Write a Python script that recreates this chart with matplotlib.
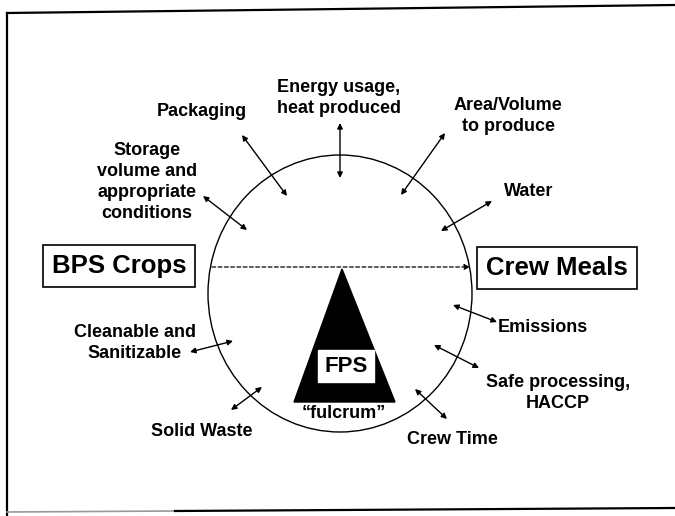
import matplotlib
matplotlib.use("Agg")
import matplotlib.pyplot as plt
from matplotlib.patches import Ellipse, Polygon, Rectangle

# ---- data (pixel coordinates of the diagram) ----
labels = ["Energy usage,\nheat produced", "Packaging", "Area/Volume\nto produce",
          "Storage\nvolume and\nappropriate\nconditions", "Water", "Emissions",
          "Cleanable and\nSanitizable", "Safe processing,\nHACCP", "Solid Waste", "Crew Time"]
label_x = [339, 202, 508, 147, 529, 543, 135, 558, 202, 452]
label_y = [98, 111, 116, 182, 192, 327, 343, 393, 431, 439]

arrow_start_x = [340, 242, 445, 203, 492, 497, 190, 479, 231, 447]
arrow_start_y = [123, 135, 133, 196, 201, 322, 352, 368, 410, 419]
arrow_end_x = [340, 287, 401, 247, 441, 453, 233, 434, 262, 415]
arrow_end_y = [178, 196, 195, 230, 231, 305, 341, 345, 387, 389]

side_labels = ["BPS Crops", "Crew Meals"]
side_x = [119, 557]
side_y = [266, 268]

center_label = "FPS"
fulcrum_label = "\u201cfulcrum\u201d"

W, H = 675, 516
fig = plt.figure(figsize=(W / 100, H / 100), dpi=100)
ax = fig.add_axes([0, 0, 1, 1])
ax.set_xlim(0, W)
ax.set_ylim(H, 0)
ax.axis("off")

font = ["Liberation Sans", "DejaVu Sans"]

# outer frame (slightly skewed scan)
ax.plot([7, 7], [13, 516], color="black", lw=1.6)
ax.plot([7, 675], [13, 5], color="black", lw=1.6)
ax.plot([7, 175], [512, 511], color="#999999", lw=1.2)
ax.plot([175, 675], [511, 508], color="black", lw=1.6)

# circle
ax.add_patch(Ellipse((340, 293.5), 264, 277, fill=False, ec="black", lw=1.0))

# dashed balance line with arrowhead
ax.annotate("", xy=(470, 267), xytext=(212, 267),
            arrowprops=dict(arrowstyle="-|>", linestyle=(0, (3, 2)), lw=0.9,
                            color="black", mutation_scale=8, shrinkA=0, shrinkB=0))

# fulcrum triangle
ax.add_patch(Polygon([(342, 269), (294, 402), (395, 402)], closed=True, fc="black", ec="black"))
ax.add_patch(Rectangle((318, 350), 56, 32, fc="white", ec="white"))
ax.text(346, 366, center_label, ha="center", va="center", fontsize=16,
        fontweight="bold", family=font)
ax.text(344, 413, fulcrum_label, ha="center", va="center", fontsize=13,
        fontweight="bold", family=font)

# side boxes
for t, x, y in zip(side_labels, side_x, side_y):
    ax.text(x, y, t, ha="center", va="center", fontsize=18.5, fontweight="bold",
            family=font,
            bbox=dict(boxstyle="square,pad=0.35", fc="white", ec="black", lw=1.2))

# double-headed arrows
for x0, y0, x1, y1 in zip(arrow_start_x, arrow_start_y, arrow_end_x, arrow_end_y):
    ax.annotate("", xy=(x1, y1), xytext=(x0, y0),
                arrowprops=dict(arrowstyle="<|-|>", lw=1.0, color="black",
                                mutation_scale=8, shrinkA=0, shrinkB=0))

# labels
for t, x, y in zip(labels, label_x, label_y):
    ax.text(x, y, t, ha="center", va="center", fontsize=13, fontweight="bold",
            family=font, linespacing=1.32)

fig.savefig("out.png", dpi=100)
